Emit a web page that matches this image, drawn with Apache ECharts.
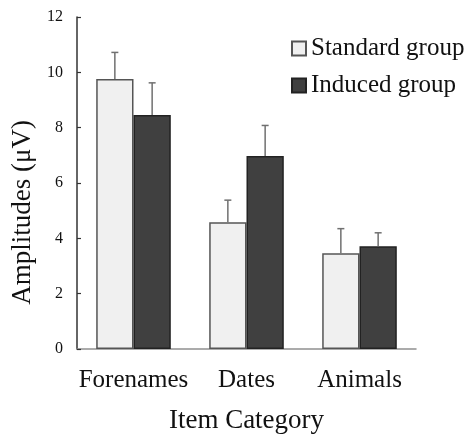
<!DOCTYPE html>
<html>
<head>
<meta charset="utf-8">
<script src="https://cdn.jsdelivr.net/npm/echarts@6/dist/echarts.min.js"></script>
<style>html,body{margin:0;padding:0;background:#fff;}#c{width:466px;height:436px;}</style>
</head>
<body>
<div id="c"></div>
<script>
var categories = ['Forenames', 'Dates', 'Animals'];
var standardValues = [9.76, 4.58, 3.46];
var standardErrors = [0.96, 0.80, 0.89];
var inducedValues = [8.46, 6.98, 3.71];
var inducedErrors = [1.16, 1.10, 0.49];
var yTicks = [0, 2, 4, 6, 8, 10, 12];
var seriesNames = ['Standard group', 'Induced group'];

var FONT = '"Liberation Serif", "Times New Roman", serif';
var BAR_FRAC = 0.33;

function errorSeries(values, errors, side) {
  var data = values.map(function (v, i) { return [i, v, v + errors[i]]; });
  return {
    type: 'custom',
    silent: true,
    z: 5,
    legendHoverLink: false,
    tooltip: { show: false },
    data: data,
    encode: { x: 0, y: [1, 2] },
    renderItem: function (params, api) {
      var idx = api.value(0);
      var low = api.coord([idx, api.value(1)]);
      var high = api.coord([idx, api.value(2)]);
      var band = api.size([1, 0])[0];
      var bw = band * BAR_FRAC;
      var x = low[0] + side * bw / 2;
      var cap = 3.5;
      var st = { stroke: '#707070', lineWidth: 1.5 };
      return {
        type: 'group',
        children: [
          { type: 'line', shape: { x1: x, y1: low[1], x2: x, y2: high[1] }, style: st },
          { type: 'line', shape: { x1: x - cap, y1: high[1], x2: x + cap, y2: high[1] }, style: st }
        ]
      };
    }
  };
}

var chart = echarts.init(document.getElementById('c'), null, { renderer: 'canvas' });
chart.setOption({
  animation: false,
  backgroundColor: '#ffffff',
  textStyle: { fontFamily: FONT },
  grid: { left: 77, right: 50, top: 17, bottom: 87, containLabel: false, outerBoundsMode: 'none' },
  legend: {
    orient: 'vertical',
    left: 291,
    top: 36,
    padding: 0,
    itemWidth: 14,
    itemHeight: 14,
    itemGap: 12,
    icon: 'rect',
    textStyle: { fontFamily: FONT, fontSize: 25, color: '#111' },
    data: seriesNames
  },
  xAxis: {
    type: 'category',
    data: categories,
    name: 'Item Category',
    nameLocation: 'middle',
    nameGap: 58,
    nameTextStyle: { fontFamily: FONT, fontSize: 27, color: '#111' },
    axisLine: { lineStyle: { color: '#909090', width: 1.5 } },
    axisTick: { show: false },
    axisLabel: { fontFamily: FONT, fontSize: 25, color: '#111', margin: 19, interval: 0 }
  },
  yAxis: {
    type: 'value',
    min: yTicks[0],
    max: yTicks[yTicks.length - 1],
    interval: 2,
    splitLine: { show: false },
    axisLine: { show: true, lineStyle: { color: '#333', width: 1.5 } },
    axisTick: { show: true, inside: true, length: 4, lineStyle: { color: '#333', width: 1.2 } },
    axisLabel: { fontFamily: FONT, fontSize: 16, color: '#111', margin: 14 }
  },
  graphic: [{
    type: 'text',
    left: 9,
    top: 120,
    rotation: Math.PI / 2,
    style: { text: 'Amplitudes (μV)', font: '27px ' + FONT, fill: '#111' }
  }],
  series: [
    {
      name: seriesNames[0],
      type: 'bar',
      data: standardValues,
      barWidth: (BAR_FRAC * 100) + '%',
      barGap: '0%',
      itemStyle: { color: '#f0f0f0', borderColor: '#555', borderWidth: 1.5 }
    },
    {
      name: seriesNames[1],
      type: 'bar',
      data: inducedValues,
      barWidth: (BAR_FRAC * 100) + '%',
      barGap: '0%',
      itemStyle: { color: '#404040', borderColor: '#222', borderWidth: 1.5 }
    },
    errorSeries(standardValues, standardErrors, -1),
    errorSeries(inducedValues, inducedErrors, 1)
  ]
});
</script>
</body>
</html>
